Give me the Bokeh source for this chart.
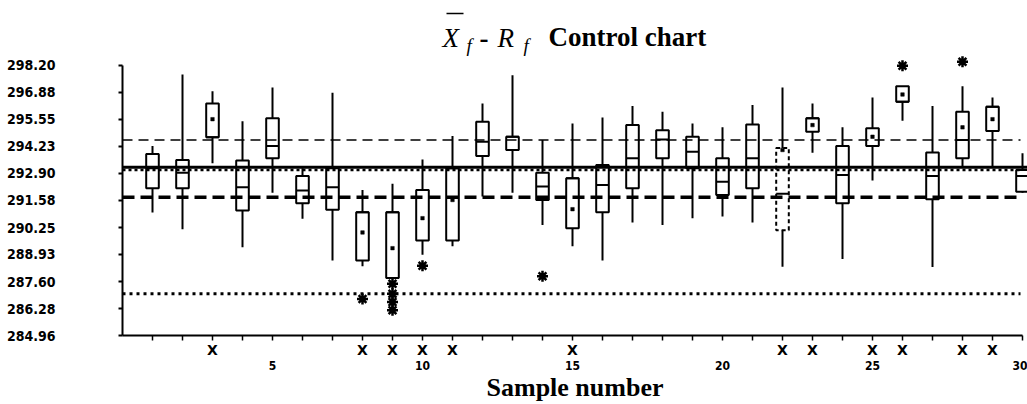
from bokeh.plotting import figure
from bokeh.models import (Range1d, LinearAxis, FixedTicker, ColumnDataSource,
                          PrintfTickFormatter, Span)
from bokeh.core.properties import value
from bokeh.embed import file_html
from bokeh.resources import INLINE

# ---------------- data ----------------
samples      = list(range(1, 31))
whisker_high = [294.24, 297.75, 296.93, 295.46, 297.11, 293.15, 296.85, 292.09, 292.39, 293.59,
                294.73, 296.33, 297.71, 294.54, 295.35, 295.64, 296.20, 295.92, 295.35, 295.16,
                296.25, 297.11, 296.33, 295.16, 296.62, 297.17, 296.21, 297.17, 296.62, 293.89]
q3           = [293.85, 293.56, 296.33, 293.53, 295.60, 292.78, 293.15, 291.00, 291.00, 292.09,
                293.15, 295.43, 294.70, 292.94, 292.67, 293.31, 295.27, 295.02, 294.70, 293.64,
                295.30, 294.15, 295.60, 294.24, 295.11, 297.17, 293.93, 295.92, 296.17, 293.07]
median       = [293.15, 292.94, 294.67, 292.23, 294.24, 292.06, 292.23, 291.00, 291.00, 292.09,
                293.15, 294.45, 294.70, 292.26, 292.67, 292.34, 293.64, 294.57, 293.96, 292.50,
                293.64, 291.90, 295.60, 292.83, 294.24, 296.41, 292.78, 294.54, 296.17, 292.78]
q1           = [292.18, 292.18, 294.67, 291.08, 293.64, 291.44, 291.12, 288.64, 287.78, 289.62,
                289.62, 293.75, 294.05, 291.60, 290.22, 291.00, 292.18, 293.64, 293.15, 291.85,
                292.18, 290.12, 294.94, 291.44, 294.24, 296.41, 291.64, 293.64, 294.98, 292.01]
whisker_low  = [290.99, 290.17, 293.40, 289.29, 291.96, 290.68, 288.64, 288.35, 287.78, 288.92,
                289.33, 291.77, 291.96, 290.38, 289.33, 288.64, 290.50, 290.38, 290.71, 290.79,
                290.50, 288.33, 293.92, 288.71, 292.55, 295.48, 288.32, 293.23, 293.23, 291.95]
nan = float("nan")
means        = [nan, nan, 295.56, nan, nan, nan, nan, 290.01, 289.24, 290.71,
                291.60, nan, nan, nan, 291.15, nan, nan, nan, nan, nan,
                nan, 294.05, 295.27, nan, 294.70, 296.77, nan, 295.16, 295.56, nan]
outlier_sample = [8, 9, 9, 9, 9, 10, 14, 26, 28]
outlier_value  = [286.75, 287.50, 287.00, 286.60, 286.20, 288.38, 287.86, 298.18, 298.37]
flagged_samples = [3, 8, 9, 10, 11, 15, 22, 23, 25, 26, 28, 29]
dashed_samples  = [22]

center_line     = 293.20
center_dotted   = 293.07
upper_dashed    = 294.54
lower_dashed    = 291.74
lower_dotted    = 287.00

y_ticks = [284.96, 286.28, 287.60, 288.93, 290.25, 291.58, 292.90, 294.23, 295.55, 296.88, 298.20]
x_label_ticks = [5, 10, 15, 20, 25, 30]

# ---------------- layout ----------------
W, H = 1027, 404
LEFT, BOTTOM = 122, 68
PX_X = 30.0                      # px per sample
PX_Y = 271.0 / (298.20 - 284.96)  # px per unit
x_end = (W - LEFT) / PX_X
y_top = 298.20 + 65 / PX_Y

def cx(px):
    return (px - LEFT) / PX_X

def cy(py):
    return y_top - py / PX_Y

p = figure(width=W, height=H, output_backend="svg", toolbar_location=None,
           x_range=Range1d(0, x_end), y_range=Range1d(284.96, y_top),
           x_axis_location=None, y_axis_location="left",
           min_border_left=LEFT, min_border_right=0, min_border_top=0,
           min_border_bottom=BOTTOM)
p.outline_line_color = None
p.xgrid.grid_line_color = None
p.ygrid.grid_line_color = None
p.background_fill_color = "white"
p.border_fill_color = "white"

# y axis
ya = p.yaxis[0]
ya.ticker = FixedTicker(ticks=y_ticks)
ya.formatter = PrintfTickFormatter(format="%.2f")
ya.bounds = (284.96, 298.20)
ya.axis_line_width = 2
ya.major_tick_line_width = 2
ya.major_tick_out = 4
ya.major_tick_in = 0
ya.minor_tick_out = 0
ya.minor_tick_in = 0
ya.major_label_standoff = 63
ya.major_label_text_font = "DejaVu Sans Condensed"
ya.major_label_text_font_style = "bold"
ya.major_label_text_font_size = "14px"
ya.major_label_text_color = "black"

# x axis 1: ticks + flag marks
flag_over = {k: ("X" if k in flagged_samples else "") for k in samples}
xa1 = LinearAxis(ticker=FixedTicker(ticks=samples), bounds=(0, 30),
                 major_label_overrides=flag_over)
xa1.axis_line_width = 2
xa1.major_tick_line_width = 1.5
xa1.major_tick_out = 5
xa1.major_tick_in = 0
xa1.minor_tick_out = 0
xa1.major_label_standoff = 1
xa1.major_label_text_font = "DejaVu Sans"
xa1.major_label_text_font_style = "bold"
xa1.major_label_text_font_size = "14px"
xa1.major_label_text_color = "black"
p.add_layout(xa1, "below")

# x axis 2: numbers + axis title
xa2 = LinearAxis(ticker=FixedTicker(ticks=x_label_ticks), axis_label="Sample number")
xa2.axis_line_color = None
xa2.major_tick_line_color = None
xa2.minor_tick_line_color = None
xa2.major_tick_out = 0
xa2.major_tick_in = 0
xa2.major_label_standoff = 0
xa2.major_label_text_font = "DejaVu Sans Condensed"
xa2.major_label_text_font_style = "bold"
xa2.major_label_text_font_size = "12px"
xa2.major_label_text_color = "black"
xa2.axis_label_standoff = 0
xa2.axis_label_text_font = "Liberation Serif"
xa2.axis_label_text_font_style = "bold"
xa2.axis_label_text_font_size = "26px"
xa2.axis_label_text_color = "black"
p.add_layout(xa2, "below")

# ---------------- limit lines ----------------
line_end = cx(1020)
p.add_layout(Span(location=center_line, dimension="width", line_color="black", line_width=3))
p.segment(x0=[0], y0=[center_dotted], x1=[line_end], y1=[center_dotted],
          line_color="black", line_width=2.5, line_dash="3 3")
p.segment(x0=[0], y0=[upper_dashed], x1=[line_end], y1=[upper_dashed],
          line_color="black", line_width=1.5, line_dash="10 6")
p.segment(x0=[0], y0=[lower_dashed], x1=[line_end], y1=[lower_dashed],
          line_color="black", line_width=3.5, line_dash="12 6")
p.segment(x0=[0], y0=[lower_dotted], x1=[line_end], y1=[lower_dotted],
          line_color="black", line_width=3, line_dash="3 4")

# ---------------- boxes ----------------
half = 0.21
src = ColumnDataSource(dict(
    x=samples, hi=whisker_high, q3=q3, med=median, q1=q1, lo=whisker_low, mean=means,
    left=[s - half for s in samples], right=[s + half for s in samples],
))
solid_idx = [i for i, s in enumerate(samples) if s not in dashed_samples]
dash_idx = [i for i, s in enumerate(samples) if s in dashed_samples]

def sub(idx):
    d = src.data
    return ColumnDataSource({k: [d[k][i] for i in idx] for k in d})

p.segment(x0="x", y0="q3", x1="x", y1="hi", source=src, line_color="black", line_width=2)
p.segment(x0="x", y0="lo", x1="x", y1="q1", source=src, line_color="black", line_width=2)
p.quad(left="left", right="right", bottom="q1", top="q3", source=sub(solid_idx),
       fill_color=None, line_color="black", line_width=2)
p.quad(left="left", right="right", bottom="q1", top="q3", source=sub(dash_idx),
       fill_color=None, line_color="black", line_width=2, line_dash="4 3")
p.segment(x0="left", y0="med", x1="right", y1="med", source=src, line_color="black", line_width=2)
p.scatter(x="x", y="mean", source=src, marker="square", size=3.5,
          fill_color="black", line_color="black", line_width=0.5)
p.scatter(x=outlier_sample, y=outlier_value, marker="asterisk", size=11,
          line_color="black", line_width=2.5)

# ---------------- title ----------------
serif = value("Liberation Serif")
p.text(x=[cx(442)], y=[cy(38)], text=["X"], text_font=serif, text_font_style="italic",
       text_font_size="27px", text_baseline="alphabetic", text_align="left", text_color="black")
p.segment(x0=[cx(446)], y0=[cy(13)], x1=[cx(463)], y1=[cy(13)], line_color="black", line_width=1.5)
p.text(x=[cx(466)], y=[cy(45)], text=["f"], text_font=serif, text_font_style="italic",
       text_font_size="19px", text_baseline="alphabetic", text_align="left", text_color="black")
p.text(x=[cx(479)], y=[cy(38)], text=["-"], text_font=serif, text_font_style="bold",
       text_font_size="27px", text_baseline="alphabetic", text_align="left", text_color="black")
p.text(x=[cx(497)], y=[cy(38)], text=["R"], text_font=serif, text_font_style="italic",
       text_font_size="27px", text_baseline="alphabetic", text_align="left", text_color="black")
p.text(x=[cx(523)], y=[cy(45)], text=["f"], text_font=serif, text_font_style="italic",
       text_font_size="19px", text_baseline="alphabetic", text_align="left", text_color="black")
p.text(x=[cx(548)], y=[cy(37)], text=["Control chart"], text_font=serif, text_font_style="bold",
       text_font_size="27px", text_baseline="alphabetic", text_align="left", text_color="black")

open("out.html", "w").write(file_html(p, INLINE))
